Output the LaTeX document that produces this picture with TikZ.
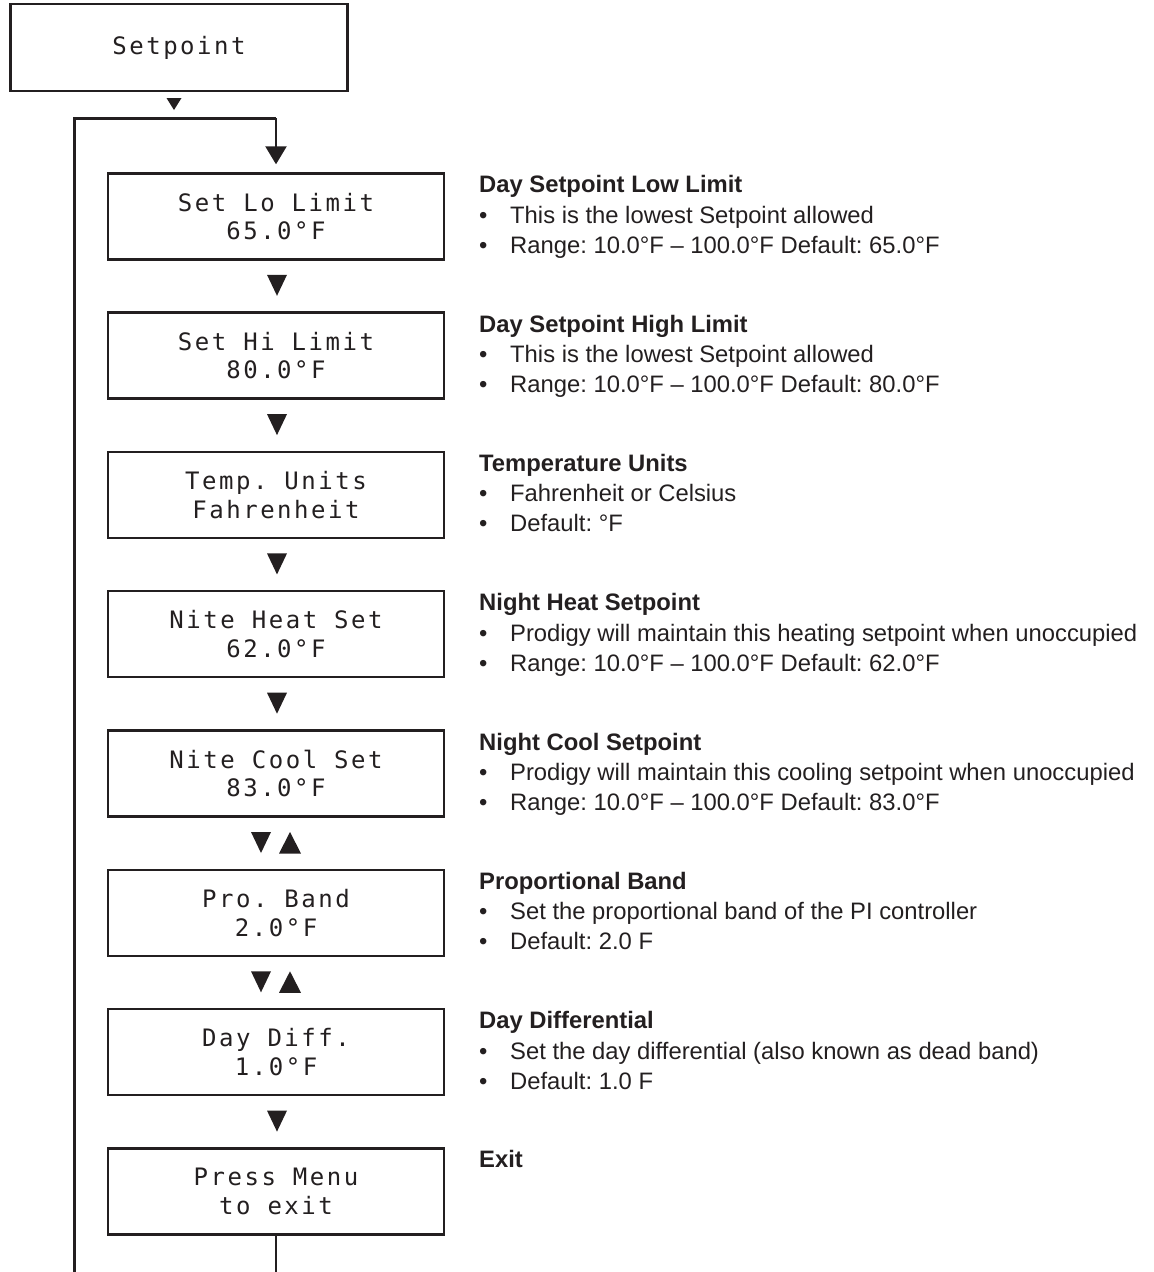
\documentclass[tikz,border=0pt]{standalone}
\usepackage{fontspec}
\setmainfont{Liberation Sans}
\newfontfamily\lcdfont[LetterSpace=10.6]{DejaVu Sans Mono}
\usetikzlibrary{arrows.meta,calc}
\definecolor{ink}{RGB}{35,31,32}
\frenchspacing

% bullet with a fixed indent before the item text
\newcommand\bul{\makebox[31pt][l]{•}}

% menu screen description: title plus two bullet lines, aligned with a display box
\newcommand\infoblock[5]{%
  \node[infotitle] (#1t) at ($(#2.north -| descx)+(0,19.5)$) {#3};
  \node[infoline]  (#1a) at ($(#2.north -| descx)+(0,50)$) {\bul #4};
  \node[infoline]  (#1b) at ($(#2.north -| descx)+(0,80)$) {\bul #5};
}

% navigation markers below a display box (horizontal offset #2)
\newcommand\downmark[2]{%
  \fill[marker] ([shift={(#2-10,15.5)}]#1.south) -- ([shift={(#2+10,15.5)}]#1.south)
    -- ([shift={(#2,36.5)}]#1.south) -- cycle;}
\newcommand\upmark[2]{%
  \fill[marker] ([shift={(#2-11,37)}]#1.south) -- ([shift={(#2+11,37)}]#1.south)
    -- ([shift={(#2,15.5)}]#1.south) -- cycle;}

\begin{document}
\begin{tikzpicture}[x=1pt,y=-1pt,
  display/.style={draw=ink, line width=2.4pt, minimum width=336pt, minimum height=86pt,
    inner sep=0pt, outer sep=0pt, align=center, text=ink,
    font=\lcdfont\fontsize{24}{28.5}\selectfont},
  infotitle/.style={anchor=base west, inner sep=0pt, text=ink,
    font=\bfseries\fontsize{23.8}{28}\selectfont},
  infoline/.style={anchor=base west, inner sep=0pt, text=ink,
    font=\fontsize{23.8}{28}\selectfont},
  link/.style={draw=ink, line width=2.4pt},
  marker/.style={fill=ink}]

\useasboundingbox (0,0) rectangle (1154,1272);

% menu header
\node[display, minimum width=337pt, minimum height=87pt] (top) at (179,47.5) {Setpoint};
\fill[marker] ([shift={(-12.5,7)}]top.south) -- ([shift={(2.5,7)}]top.south)
  -- ([shift={(-5,19)}]top.south) -- cycle;

% display screens
\node[display] (b1) at (276,216.3)  {Set Lo Limit\\65.0°F};
\node[display] (b2) at (276,355.6)  {Set Hi Limit\\80.0°F};
\node[display] (b3) at (276,494.9)  {Temp. Units\\Fahrenheit};
\node[display] (b4) at (276,634.2)  {Nite Heat Set\\62.0°F};
\node[display] (b5) at (276,773.5)  {Nite Cool Set\\83.0°F};
\node[display] (b6) at (276,912.8)  {Pro. Band\\2.0°F};
\node[display] (b7) at (276,1052.1) {Day Diff.\\1.0°F};
\node[display] (b8) at (276,1191.4) {Press Menu\\to exit};

% markers between screens
\downmark{b1}{1}
\downmark{b2}{1}
\downmark{b3}{1}
\downmark{b4}{1}
\downmark{b5}{-15}\upmark{b5}{14}
\downmark{b6}{-15}\upmark{b6}{14}
\downmark{b7}{1}

% return loop
\coordinate (loopL) at (74.5,118.3);
\coordinate (loopR) at (276,118.3);
\coordinate (loopEnd) at (74.5,1272);
\coordinate (exitEnd) at (276,1272);
\draw[link] (loopEnd) -- (loopL) -- (loopR);
\draw[link, -{Triangle[width=21pt,length=18pt]}, shorten >=9pt] (loopR) -- (b1.north);
\draw[link] (b8.south) -- (exitEnd);

% descriptions
\coordinate (descx) at (479,0);
\infoblock{d1}{b1}{Day Setpoint Low Limit}{This is the lowest Setpoint allowed}{Range: 10.0°F – 100.0°F Default: 65.0°F}
\infoblock{d2}{b2}{Day Setpoint High Limit}{This is the lowest Setpoint allowed}{Range: 10.0°F – 100.0°F Default: 80.0°F}
\infoblock{d3}{b3}{Temperature Units}{Fahrenheit or Celsius}{Default: °F}
\infoblock{d4}{b4}{Night Heat Setpoint}{Prodigy will maintain this heating setpoint when unoccupied}{Range: 10.0°F – 100.0°F Default: 62.0°F}
\infoblock{d5}{b5}{Night Cool Setpoint}{Prodigy will maintain this cooling setpoint when unoccupied}{Range: 10.0°F – 100.0°F Default: 83.0°F}
\infoblock{d6}{b6}{Proportional Band}{Set the proportional band of the PI controller}{Default: 2.0 F}
\infoblock{d7}{b7}{Day Differential}{Set the day differential (also known as dead band)}{Default: 1.0 F}
\node[infotitle] (d8t) at ($(b8.north -| descx)+(0,19.5)$) {Exit};

\end{tikzpicture}
\end{document}
